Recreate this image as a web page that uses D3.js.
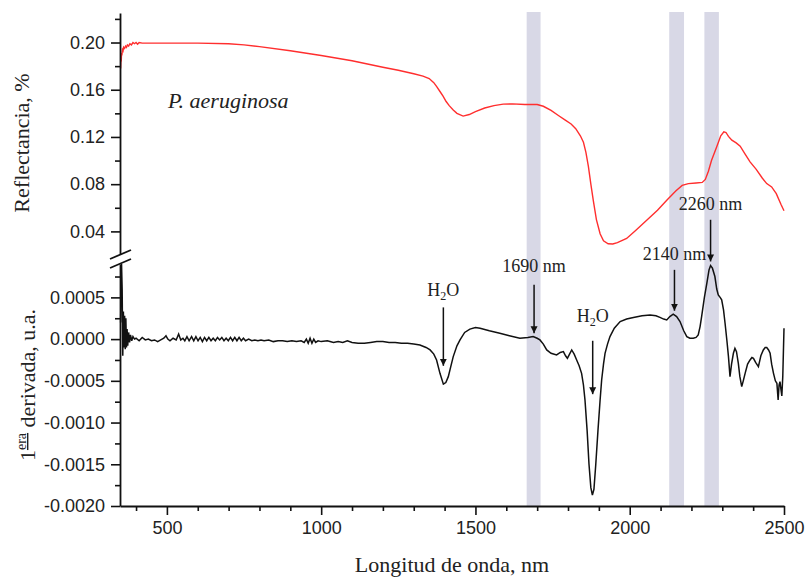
<!DOCTYPE html>
<html><head><meta charset="utf-8">
<script src="https://cdn.jsdelivr.net/npm/d3@7"></script>
<style>
html,body{margin:0;padding:0;background:#fff;}
svg{display:block;}
.tick text{font-family:"Liberation Sans",Arial,sans-serif;font-size:18px;fill:#222;}
.serif{font-family:"Liberation Serif","Times New Roman",serif;fill:#222;}
</style></head>
<body>
<svg id="chart" width="808" height="581"></svg>
<script>
// ---------- DATA ----------
const reflWavelength = [350,351,352,353,354,356,358,360,363,366,369,372,376,380,385,390,395,400,405,410,420,450,500,600,700,750,800,900,1000,1100,1200,1250,1300,1330,1350,1365,1375,1385,1395,1405,1415,1428,1440,1460,1480,1500,1530,1560,1590,1620,1660,1700,1720,1745,1770,1790,1810,1825,1840,1850,1858,1866,1874,1882,1892,1904,1915,1930,1945,1960,1990,2020,2055,2090,2120,2150,2170,2190,2215,2235,2245,2255,2265,2282,2295,2305,2312,2320,2331,2345,2358,2375,2390,2410,2430,2444,2460,2475,2490,2500];
const reflValue = [0.178,0.186,0.184,0.191,0.189,0.194,0.193,0.196,0.195,0.197,0.196,0.198,0.197,0.199,0.198,0.2,0.199,0.2,0.1985,0.2,0.1995,0.1995,0.1995,0.1995,0.199,0.198,0.1965,0.193,0.189,0.1845,0.179,0.1765,0.1735,0.1715,0.1695,0.166,0.1625,0.1585,0.1545,0.150,0.1465,0.1428,0.1400,0.1377,0.139,0.1415,0.1445,0.1465,0.1478,0.148,0.1475,0.1475,0.146,0.1425,0.138,0.1345,0.131,0.127,0.121,0.1155,0.107,0.095,0.08,0.066,0.05,0.038,0.032,0.0295,0.0293,0.0305,0.034,0.041,0.0494,0.058,0.0664,0.0745,0.079,0.0805,0.081,0.0815,0.084,0.091,0.1,0.1116,0.121,0.1244,0.1238,0.1205,0.1173,0.115,0.1122,0.105,0.0989,0.0925,0.085,0.0805,0.0777,0.072,0.063,0.0575];

const derivWavelength = [350,351,353,355,357,359,361,363,365,367,369,371,373,376,379,382,386,390,395,400,410,420,430,440,450,460,470,480,490,497,503,510,520,530,538,545,552,558,565,572,580,587,594,601,608,615,622,629,636,643,650,657,664,671,678,685,692,699,706,713,720,727,734,741,748,755,765,775,785,795,805,815,830,845,860,875,890,905,920,935,945,952,958,964,970,976,982,990,1000,1020,1040,1055,1070,1085,1100,1120,1140,1160,1180,1200,1220,1240,1260,1280,1300,1320,1340,1353,1365,1374,1385,1396,1404,1412,1420,1428,1440,1450,1465,1482,1500,1515,1545,1579,1610,1644,1670,1687,1700,1709,1720,1731,1745,1763,1775,1785,1792,1798,1805,1812,1820,1828,1836,1844,1850,1855,1862,1868,1874,1879,1884,1890,1897,1904,1909,1915,1920,1928,1936,1950,1969,1990,2012,2040,2066,2085,2098,2110,2120,2130,2141,2152,2163,2175,2185,2195,2206,2215,2222,2228,2233,2242,2250,2257,2262,2268,2276,2282,2287,2293,2298,2304,2309,2315,2320,2325,2330,2336,2341,2346,2352,2357,2363,2368,2374,2382,2390,2396,2401,2408,2417,2425,2433,2439,2444,2450,2455,2460,2466,2472,2477,2481,2484,2487,2490,2493,2496,2500];
const derivValue = [0.0002,0.0005,0.0009,0.0006,-0.0002,0.00033,-0.0001,0.00028,-0.00012,0.00025,-0.0001,0.00012,-0.00008,0.00008,-0.00004,0.00005,-0.00002,0.00003,0.0,0.00001,-0.00002,0.00002,-0.00001,0.0,-0.00002,-0.00001,-0.00003,-0.00001,0.00001,0.00004,0.0,-0.00002,0.00001,-0.00001,0.00006,-0.00001,0.00001,-0.00002,0.00003,-0.00002,0.00003,-0.00002,0.00003,-0.00002,0.00002,-0.00003,0.00002,-0.00002,0.00002,-0.00002,0.00001,-0.00002,0.00002,-0.00001,0.00002,-0.00002,0.00001,-0.00002,0.00002,-0.00002,0.00002,-0.00002,0.00002,-0.00002,0.00001,-0.00002,0.0,-0.00002,-0.00001,-0.00002,-0.00001,-0.00002,-0.00001,-0.00003,-0.00002,-0.00002,-0.00003,-0.00002,-0.00003,-0.00002,-0.00004,0.0,-0.00005,0.00001,-0.00005,0.0,-0.00004,-0.00002,-0.00003,-0.00002,-0.00004,-0.00003,-0.00004,-0.00002,-0.00004,-0.00005,-0.00005,-0.00004,-0.00003,-0.00003,-0.00004,-0.00004,-0.00005,-0.00005,-0.00006,-0.00007,-0.0001,-0.00013,-0.00018,-0.00025,-0.00041,-0.00054,-0.00052,-0.00045,-0.00033,-0.00021,-0.00008,-0.00001,0.00008,0.00012,0.00014,0.00013,0.0001,0.00007,0.00004,0.00001,0.00002,0.00003,0.00001,-0.00001,-0.00006,-0.00013,-0.00017,-0.00019,-0.00016,-0.00015,-0.0002,-0.00023,-0.00018,-0.00013,-0.00018,-0.00025,-0.00032,-0.00041,-0.00055,-0.00073,-0.0011,-0.0015,-0.00178,-0.00187,-0.0018,-0.0015,-0.0011,-0.00073,-0.00049,-0.0003,-0.00017,-0.00006,0.00003,0.00013,0.00021,0.00024,0.00026,0.00028,0.00029,0.00028,0.00026,0.00024,0.00023,0.00027,0.0003,0.00027,0.00021,0.0001,0.00003,0.00001,0.00001,0.00002,0.00005,0.00015,0.00027,0.0005,0.00067,0.00083,0.00088,0.00085,0.00075,0.0006,0.00053,0.0005,0.00047,0.00035,0.00019,-0.00002,-0.00021,-0.00045,-0.0003,-0.00017,-0.00011,-0.00015,-0.00029,-0.00045,-0.00057,-0.0005,-0.00041,-0.0003,-0.00025,-0.00022,-0.00023,-0.00028,-0.00033,-0.0002,-0.00013,-0.0001,-0.0001,-0.00013,-0.00017,-0.0003,-0.00041,-0.0005,-0.00053,-0.00073,-0.00055,-0.00051,-0.0006,-0.00068,-0.00045,0.00013];

const bandStart = [1666,2128,2242];
const bandEnd = [1711,2176,2289];

const xTicks = [500,1000,1500,2000,2500];
const xMinorTicks = [400,600,700,800,900,1100,1200,1300,1400,1600,1700,1800,1900,2100,2200,2300,2400];
const topTicks = [0.04,0.08,0.12,0.16,0.20];
const topTickLabels = ["0.04","0.08","0.12","0.16","0.20"];
const topMinorTicks = [0.06,0.10,0.14,0.18,0.22];
const botTicks = [0.0005,0,-0.0005,-0.001,-0.0015,-0.002];
const botTickLabels = ["0.0005","0.0000","-0.0005","-0.0010","-0.0015","-0.0020"];
const botMinorTicks = [0.00075,0.00025,-0.00025,-0.00075,-0.00125,-0.00175];

const annotationText = ["H2O","1690 nm","H2O","2140 nm","2260 nm"];
const annotationWavelength = [1396,1690,1880,2145,2262];
const annotationArrowTop = [0.00038,0.00065,-0.00002,0.00083,0.00143];
const annotationArrowEnd = [-0.00032,0.00007,-0.00066,0.00034,0.00093];
const annotationTextValue = [0.00052,0.0008,0.0002,0.00095,0.00155];

// ---------- CHART ----------
const svg = d3.select("#chart");
const x = d3.scaleLinear().domain([348,2500]).range([120,784]);
const yTop = d3.scaleLinear().domain([0.02,0.225]).range([255,13]);
const yBot = d3.scaleLinear().domain([-0.002,0.0009]).range([506,264]);

// bands
svg.append("g").selectAll("rect").data(bandStart).join("rect")
  .attr("x",(d,i)=>x(d)).attr("width",(d,i)=>x(bandEnd[i])-x(d))
  .attr("y",12).attr("height",yBot(-0.002)-12)
  .attr("fill","#d8d8e6");

// lines
const reflData = reflWavelength.map((w,i)=>[w,reflValue[i]]);
const derivData = derivWavelength.map((w,i)=>[w,derivValue[i]]);
svg.append("path").datum(reflData)
  .attr("d",d3.line().x(d=>x(d[0])).y(d=>yTop(d[1])))
  .attr("fill","none").attr("stroke","#ff2e2e").attr("stroke-width",1.4);
svg.append("path").datum(derivData)
  .attr("d",d3.line().x(d=>x(d[0])).y(d=>yBot(d[1])))
  .attr("fill","none").attr("stroke","#111").attr("stroke-width",1.5);

// axes
function styleAxis(g){
  g.selectAll(".domain").attr("stroke","#111").attr("stroke-width",1.8);
  g.selectAll(".tick line").attr("stroke","#111").attr("stroke-width",1.6);
}
const gTop = svg.append("g").attr("transform","translate(120,0)")
  .call(d3.axisLeft(yTop).tickValues(topTicks).tickSize(9).tickSizeOuter(0)
    .tickPadding(6).tickFormat((d,i)=>topTickLabels[i]));
styleAxis(gTop);
svg.append("g").attr("transform","translate(120,0)")
  .call(d3.axisLeft(yTop).tickValues(topMinorTicks).tickSize(5).tickSizeOuter(0).tickFormat(""))
  .call(g=>{g.select(".domain").remove();styleAxis(g);});

const gBot = svg.append("g").attr("transform","translate(120,0)")
  .call(d3.axisLeft(yBot).tickValues(botTicks).tickSize(9).tickSizeOuter(0)
    .tickPadding(6).tickFormat((d,i)=>botTickLabels[i]));
styleAxis(gBot);
svg.append("g").attr("transform","translate(120,0)")
  .call(d3.axisLeft(yBot).tickValues(botMinorTicks).tickSize(5).tickSizeOuter(0).tickFormat(""))
  .call(g=>{g.select(".domain").remove();styleAxis(g);});

const gX = svg.append("g").attr("transform",`translate(0,${yBot(-0.002)})`)
  .call(d3.axisBottom(x).tickValues(xTicks).tickSize(9).tickSizeOuter(0).tickPadding(6).tickFormat(d3.format("d")));
styleAxis(gX);
svg.append("g").attr("transform",`translate(0,${yBot(-0.002)})`)
  .call(d3.axisBottom(x).tickValues(xMinorTicks).tickSize(5).tickSizeOuter(0).tickFormat(""))
  .call(g=>{g.select(".domain").remove();styleAxis(g);});

// axis break marks
const brk = svg.append("g").attr("stroke","#111").attr("stroke-width",1.8);
brk.append("rect").attr("x",112).attr("y",255).attr("width",16).attr("height",9).attr("fill","#fff").attr("stroke","none");
brk.append("line").attr("x1",110).attr("y1",259).attr("x2",131).attr("y2",250);
brk.append("line").attr("x1",110).attr("y1",268).attr("x2",131).attr("y2",259);

// axis titles
svg.append("text").attr("class","serif")
  .attr("transform","translate(29,143) rotate(-90)").attr("text-anchor","middle")
  .style("font-size","22px").text("Reflectancia, %");
const t2 = svg.append("text").attr("class","serif")
  .attr("transform","translate(35,385) rotate(-90)").attr("text-anchor","middle")
  .style("font-size","22px");
t2.append("tspan").text("1");
t2.append("tspan").attr("dy",-9).style("font-size","14px").style("text-decoration","underline").text("era");
t2.append("tspan").attr("dy",9).text(" derivada, u.a.");
svg.append("text").attr("class","serif").attr("x",452).attr("y",572)
  .attr("text-anchor","middle").style("font-size","22px").text("Longitud de onda, nm");

svg.append("text").attr("class","serif").attr("x",168).attr("y",108)
  .style("font-size","22px").style("font-style","italic").text("P. aeruginosa");

// annotations
svg.append("defs").append("marker").attr("id","arr")
  .attr("viewBox","0 0 10 10").attr("refX",10).attr("refY",5)
  .attr("markerWidth",7).attr("markerHeight",9).attr("markerUnits","userSpaceOnUse")
  .attr("orient","auto")
  .append("path").attr("d","M0,0 L10,5 L0,10 Z").attr("fill","#111");

annotationText.forEach((t,i)=>{
  const ax = x(annotationWavelength[i]);
  svg.append("line").attr("x1",ax).attr("x2",ax)
    .attr("y1",yBot(annotationArrowTop[i])).attr("y2",yBot(annotationArrowEnd[i]))
    .attr("stroke","#111").attr("stroke-width",1.5).attr("marker-end","url(#arr)");
  const tx = svg.append("text").attr("class","serif").attr("x",ax).attr("y",yBot(annotationTextValue[i]))
    .attr("text-anchor","middle").style("font-size","18px");
  if(t==="H2O"){
    tx.append("tspan").text("H");
    tx.append("tspan").attr("dy",4).style("font-size","12px").text("2");
    tx.append("tspan").attr("dy",-4).text("O");
  } else tx.text(t);
});
</script>
</body></html>
